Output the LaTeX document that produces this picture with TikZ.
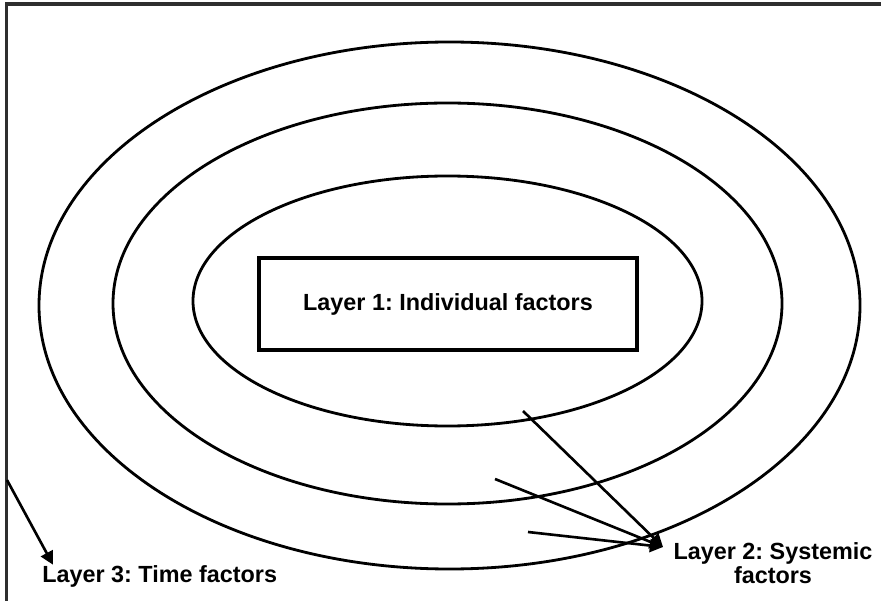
\documentclass[tikz,border=0pt]{standalone}
\usepackage{fontspec}
\setmainfont{Liberation Sans}
\usepackage{xcolor}
\usepackage{tikz}
\usetikzlibrary{arrows.meta}

\definecolor{framegray}{HTML}{2E2E2E}
\frenchspacing

\begin{document}
\begin{tikzpicture}[
        layer/.style={line width=1.6pt, black},
        pointer/.style={line width=1.5pt, -{Triangle[length=7.5pt,width=7.5pt]}},
        label/.style={font=\fontsize{13.3}{13.7}\selectfont\bfseries, inner sep=0pt}
    ]
        \useasboundingbox (0,0) rectangle (17.62,-12.02);

        % Open frame (top and left only)
        \draw[line width=1.9pt, framegray] (17.62,-0.08) -- (0.13,-0.08) -- (0.13,-12.02);

        % The three layers
        \draw[layer] (8.99,-6.11) ellipse (8.21 and 5.27);
        \draw[layer] (8.95,-6.07) ellipse (6.69 and 4.01);
        \draw[layer] (8.95,-6.02) ellipse (5.09 and 2.50);

        % Layer 1 box
        \node[label, draw, line width=1.8pt, minimum width=7.56cm, minimum height=1.84cm] (lay1) at (8.96,-6.08) {Layer 1: Individual factors};

        % Layer 2 label and its arrows
        \node[label, align=center] (lay2) at (15.46,-11.27) {Layer 2: Systemic\\factors};
        \coordinate (tip2) at (13.26,-10.94);
        \coordinate (s1) at (10.46,-8.22);
        \coordinate (s2) at (9.90,-9.58);
        \coordinate (s3) at (10.56,-10.64);
        \draw[pointer] (s1) -- (tip2);
        \draw[pointer] (s2) -- (tip2);
        \draw[pointer] (s3) -- (tip2);

        % Layer 3 label and its arrow
        \node[label, anchor=base west] (lay3) at (0.84,-11.64) {Layer 3: Time factors};
        \coordinate (s4) at (0.14,-9.60);
        \draw[pointer] (s4) -- ([xshift=0.22cm]lay3.north west);
    \end{tikzpicture}
\end{document}
